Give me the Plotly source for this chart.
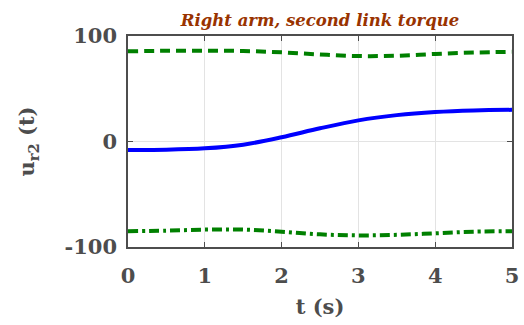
import plotly.graph_objects as go

t = [0, 0.5, 1, 1.5, 2, 2.5, 3, 3.5, 4, 4.5, 5]
u_r2 = [-8, -7.8, -6.5, -3, 4, 12.5, 20, 25, 28, 29.5, 30]
upper = [85.5, 86, 86, 85.8, 84.5, 82.5, 81, 81.3, 83, 84.3, 85]
lower = [-85, -84.5, -83.5, -83.5, -85.5, -88, -89, -88.5, -87, -85.5, -85]

x_ticks = [0, 1, 2, 3, 4, 5]
y_ticks = [-100, 0, 100]

gray = "#4d4d4d"
font = "DejaVu Serif"

fig = go.Figure()
fig.add_trace(go.Scatter(x=t, y=upper, mode="lines", line=dict(color="#008000", width=4, dash="10px,6px", shape="spline")))
fig.add_trace(go.Scatter(x=t, y=lower, mode="lines", line=dict(color="#008000", width=4, dash="10px,4px,3px,4px", shape="spline")))
fig.add_trace(go.Scatter(x=t, y=u_r2, mode="lines", line=dict(color="#0000ff", width=4, shape="spline")))

fig.update_layout(
    width=524, height=325,
    margin=dict(l=128, r=12, t=36, b=78),
    plot_bgcolor="white", paper_bgcolor="white",
    showlegend=False,
    title=dict(text="<b><i>Right arm, second link torque</i></b>", xref="paper", x=0.5, xanchor="center",
               yref="container", y=0.937, yanchor="middle",
               font=dict(family=font, size=16.5, color="#993300")),
)
fig.update_xaxes(range=[0, 5], tickvals=x_ticks, ticktext=[f"<b>{v}</b>" for v in x_ticks],
                 showgrid=True, gridcolor="#e3e3e3", gridwidth=1, automargin=False,
                 showline=True, linecolor=gray, linewidth=1.5, mirror="ticks",
                 ticks="inside", ticklen=5, tickcolor=gray, zeroline=False, ticklabelstandoff=9,
                 tickfont=dict(family=font, size=21, color=gray),
                 title=dict(text="<b>t (s)</b>", font=dict(family=font, size=21, color=gray), standoff=12))
fig.update_yaxes(range=[-100, 100], tickvals=y_ticks, ticktext=[f"<b>{v}</b>" for v in y_ticks],
                 showgrid=True, gridcolor="#e3e3e3", gridwidth=1, automargin=False,
                 showline=True, linecolor=gray, linewidth=1.5, mirror="ticks",
                 ticks="inside", ticklen=5, tickcolor=gray, zeroline=False, ticklabelstandoff=5,
                 tickfont=dict(family=font, size=21, color=gray),
                 title=dict(text="<b>u<sub>r2</sub> (t)</b>", font=dict(family=font, size=21, color=gray), standoff=24))

fig.write_html("out.html", config={"displayModeBar": False}, post_script="document.body.style.margin='0';")
